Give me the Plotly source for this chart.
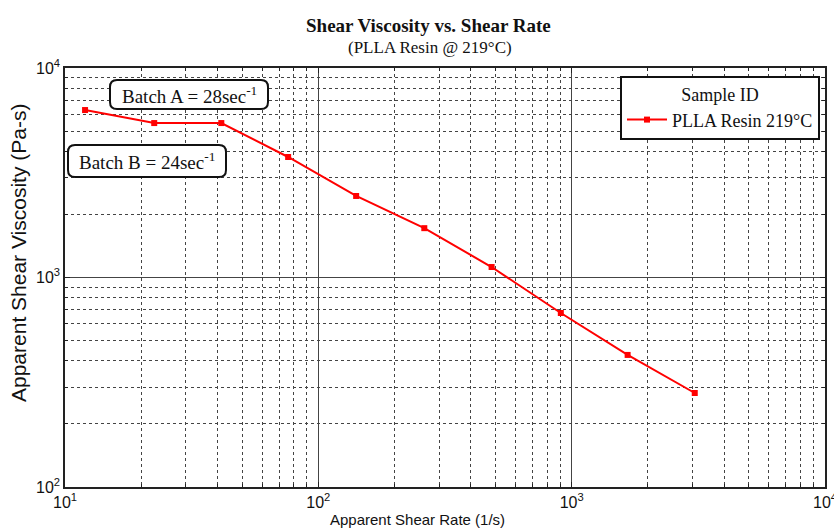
import plotly.graph_objects as go

shear_rate = [12.0, 22.5, 41.4, 76.0, 141, 262, 483, 906, 1663, 3061]
viscosity = [6300, 5460, 5460, 3760, 2450, 1720, 1122, 677, 427, 281]

x_tickvals = [10, 100, 1000, 10000]
x_ticktext = ["10<sup>1</sup>", "10<sup>2</sup>", "10<sup>3</sup>", "10<sup>4</sup>"]
y_tickvals = [100, 1000, 10000]
y_ticktext = ["10<sup>2</sup>", "10<sup>3</sup>", "10<sup>4</sup>"]

series_name = "PLLA Resin 219°C"
legend_title = "Sample ID"
title = "<b>Shear Viscosity vs. Shear Rate</b>"
subtitle = "(PLLA Resin @ 219°C)"
x_title = "Apparent Shear Rate (1/s)"
y_title = "Apparent Shear Viscosity (Pa-s)"
notes = ["Batch A = 28sec<sup>-1</sup>", "Batch B = 24sec<sup>-1</sup>"]

minor_x = [m * 10 ** e for e in range(1, 4) for m in range(2, 10)]
minor_y = [m * 10 ** e for e in range(2, 4) for m in range(2, 10)]

SERIF = "Liberation Serif"
SANS = "Liberation Sans"

W, H = 834, 529
ML, MR, MT, MB = 65, 9, 68, 42
PW, PH = W - ML - MR, H - MT - MB


def px2paper(px, py):
    return (px - ML) / PW, (H - MB - py) / PH


def rounded_box(x0, y0, x1, y1, r=7):
    # pixel box -> paper-coordinate rounded-rectangle path
    rx, ry = r / PW, r / PH
    a0, b1 = px2paper(x0, y0)
    a1, b0 = px2paper(x1, y1)
    return (f"M{a0+rx},{b1} L{a1-rx},{b1} Q{a1},{b1} {a1},{b1-ry} "
            f"L{a1},{b0+ry} Q{a1},{b0} {a1-rx},{b0} L{a0+rx},{b0} "
            f"Q{a0},{b0} {a0},{b0+ry} L{a0},{b1-ry} Q{a0},{b1} {a0+rx},{b1} Z")


fig = go.Figure()
fig.add_trace(go.Scatter(
    x=shear_rate, y=viscosity, mode="lines+markers", name=series_name,
    line=dict(color="#ff0000", width=2),
    marker=dict(symbol="square", size=6, color="#ff0000"),
))

axis_common = dict(
    type="log", showline=True, linecolor="#222", linewidth=1.5, mirror="ticks",
    ticks="inside", ticklen=5, tickcolor="#222",
    showgrid=True, gridcolor="#444", gridwidth=1,
    tickfont=dict(family=SANS, size=16, color="#111"),
    zeroline=False, automargin=False, ticklabeloverflow="allow",
)

fig.update_xaxes(
    **axis_common, range=[1, 4], tickmode="array", tickvals=x_tickvals, ticktext=x_ticktext,
    minor=dict(tickmode="array", tickvals=minor_x, showgrid=True, griddash="dot",
               gridcolor="#444", gridwidth=1, ticks="inside", ticklen=3, tickcolor="#222"),
)
fig.update_yaxes(
    **axis_common, range=[2, 4], tickmode="array", tickvals=y_tickvals, ticktext=y_ticktext,
    minor=dict(tickmode="array", tickvals=minor_y, showgrid=True, griddash="dot",
               gridcolor="#444", gridwidth=1, ticks="inside", ticklen=3, tickcolor="#222"),
)

fig.update_layout(
    width=W, height=H,
    margin=dict(l=ML, r=MR, t=MT, b=MB, autoexpand=False),
    paper_bgcolor="white", plot_bgcolor="white",
    showlegend=True,
    legend=dict(
        x=px2paper(820, 0)[0], xanchor="right", y=px2paper(0, 76)[1], yanchor="top",
        bgcolor="white", bordercolor="#111", borderwidth=2,
        font=dict(family=SERIF, size=18, color="#111"),
        title=dict(text=legend_title, side="top center", font=dict(family=SERIF, size=18, color="#111")),
        itemwidth=40, tracegroupgap=0,
    ),
)

# titles as paper annotations placed in pixel terms
texts = [
    (title, 428, 26, 19, SERIF, 0),
    (subtitle, 430, 48, 17, SERIF, 0),
    (x_title, 417, 519, 15, SANS, 0),
    (y_title, 19, 253, 21, SANS, -90),
]
for txt, px, py, size, fam, ang in texts:
    ax, ay = px2paper(px, py)
    fig.add_annotation(text=txt, xref="paper", yref="paper", x=ax, y=ay,
                       xanchor="center", yanchor="middle", showarrow=False, textangle=ang,
                       font=dict(family=fam, size=size, color="#111"))

boxes = [(110, 80, 268, 109), (68, 145, 226, 177)]
for note, (x0, y0, x1, y1) in zip(notes, boxes):
    fig.add_shape(type="path", xref="paper", yref="paper", path=rounded_box(x0, y0, x1, y1),
                  line=dict(color="#111", width=2), fillcolor="white", layer="above")
    cx, cy = px2paper((x0 + x1) / 2, (y0 + y1) / 2)
    fig.add_annotation(
        text=note, xref="paper", yref="paper", x=cx, y=cy, xanchor="center", yanchor="middle",
        showarrow=False, font=dict(family=SERIF, size=19, color="#111"),
    )

fig.write_html("out.html", config={"displayModeBar": False},
               post_script="document.body.style.margin='0';")
